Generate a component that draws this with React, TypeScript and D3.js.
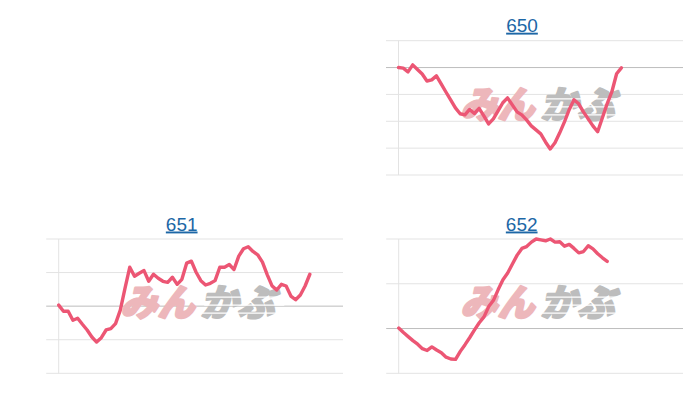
import React from "react";
import * as d3 from "d3";

const SLOTS = 60;

const titles = ["650", "651", "652"];

const series650 = [
  0, -0.02, -0.16, 0.1, -0.07, -0.24, -0.5, -0.46, -0.31, -0.61, -0.91, -1.2, -1.5, -1.72, -1.76,
  -1.56, -1.71, -1.52, -1.8, -2.1, -1.91, -1.61, -1.31, -1.13, -1.39, -1.65, -1.76, -1.95, -2.17,
  -2.32, -2.47, -2.77, -3.03, -2.8, -2.43, -2.02, -1.57, -1.2, -1.35, -1.65, -1.91, -2.17, -2.39,
  -1.87, -1.35, -0.9, -0.23, -0.01,
];

const series651 = [
  0.03, -0.15, -0.15, -0.42, -0.36, -0.54, -0.71, -0.92, -1.07, -0.94, -0.71, -0.67, -0.52, -0.12,
  0.54, 1.16, 0.89, 0.98, 1.06, 0.74, 0.95, 0.83, 0.74, 0.71, 0.86, 0.65, 0.8, 1.28, 1.34, 1.01,
  0.76, 0.63, 0.68, 0.76, 1.16, 1.16, 1.24, 1.09, 1.49, 1.71, 1.77, 1.63, 1.53, 1.31, 0.94, 0.61,
  0.48, 0.65, 0.6, 0.3, 0.19, 0.33, 0.6, 0.95,
];

const series652 = [
  0.01, -0.09, -0.18, -0.27, -0.35, -0.45, -0.49, -0.41, -0.48, -0.54, -0.64, -0.68, -0.69, -0.51,
  -0.36, -0.2, -0.03, 0.13, 0.26, 0.49, 0.63, 0.87, 1.09, 1.24, 1.44, 1.64, 1.79, 1.83, 1.93, 2.0,
  1.98, 1.96, 2.0, 1.93, 1.94, 1.84, 1.88, 1.79, 1.69, 1.72, 1.85, 1.78, 1.67, 1.58, 1.5,
];

const ticks650 = [-4, -3, -2, -1, 0, 1];
const ticks651 = [-2, -1, 0, 1, 2];
const ticks652 = [-1, 0, 1, 2];

type PanelProps = {
  title: string;
  values: number[];
  ticks: number[];
  left: number;
  top: number;
  width: number;
  height: number;
  titleX: number;
  titleY: number;
};

function Panel({ title, values, ticks, left, top, width, height, titleX, titleY }: PanelProps) {
  const x = d3.scaleLinear().domain([0, SLOTS]).range([left, left + width]);
  const y = d3
    .scaleLinear()
    .domain([d3.min(ticks) as number, d3.max(ticks) as number])
    .range([top + height, top]);
  const line = d3
    .line<number>()
    .x((_, i) => x(i))
    .y((d) => y(d));
  const cx = left + width / 2;
  const cy = top + height / 2 - 3;
  return (
    <g>
      <text
        x={titleX}
        y={titleY}
        textAnchor="middle"
        fontFamily="'Liberation Sans', Arial, sans-serif"
        fontSize={19}
        fill="#1d67a6"
        style={{ textDecoration: "underline" }}
      >
        {title}
      </text>
      {ticks.map((t) => (
        <line
          key={t}
          x1={left - 12.5}
          x2={left + width}
          y1={y(t)}
          y2={y(t)}
          stroke={t === 0 ? "#bdbdbd" : "#e3e3e3"}
          strokeWidth={1}
        />
      ))}
      <line x1={left} x2={left} y1={top} y2={top + height} stroke="#e3e3e3" strokeWidth={1} />
      <g transform={`translate(${cx},${cy})`}>
        <g transform="skewX(-14)">
          <text
            x={-3}
            y={13}
            textAnchor="end"
            fontFamily="'Noto Sans CJK JP', sans-serif"
            fontWeight={900}
            fontSize={37}
            fill="#edb7bb"
            stroke="#edb7bb"
            strokeWidth={2.2}
            strokeLinejoin="round"
          >
            みん
          </text>
          <text
            x={3}
            y={13}
            textAnchor="start"
            fontFamily="'Noto Sans CJK JP', sans-serif"
            fontWeight={900}
            fontSize={37}
            fill="#bdbdbd"
            stroke="#bdbdbd"
            strokeWidth={2.2}
            strokeLinejoin="round"
          >
            かぶ
          </text>
          {[-6, 2, 10].map((dy) => (
            <line key={dy} x1={4} x2={84} y1={dy} y2={dy} stroke="#ffffff" strokeWidth={1.2} />
          ))}
        </g>
      </g>
      <path
        d={line(values) || ""}
        fill="none"
        stroke="#ec5674"
        strokeWidth={3.4}
        strokeLinejoin="round"
        strokeLinecap="round"
      />
    </g>
  );
}

export default function App() {
  return (
    <svg
      width={700}
      height={400}
      style={{ position: "absolute", left: 0, top: 0, background: "#ffffff" }}
    >
      <rect x={0} y={0} width={700} height={400} fill="#ffffff" />
      <Panel
        title={titles[0]}
        values={series650}
        ticks={ticks650}
        left={398.5}
        top={40.7}
        width={284.5}
        height={134.3}
        titleX={522}
        titleY={31.7}
      />
      <Panel
        title={titles[1]}
        values={series651}
        ticks={ticks651}
        left={58.7}
        top={239}
        width={284.3}
        height={134.3}
        titleX={181.7}
        titleY={230.5}
      />
      <Panel
        title={titles[2]}
        values={series652}
        ticks={ticks652}
        left={398.7}
        top={239}
        width={284.3}
        height={134.3}
        titleX={521.7}
        titleY={230.5}
      />
    </svg>
  );
}
